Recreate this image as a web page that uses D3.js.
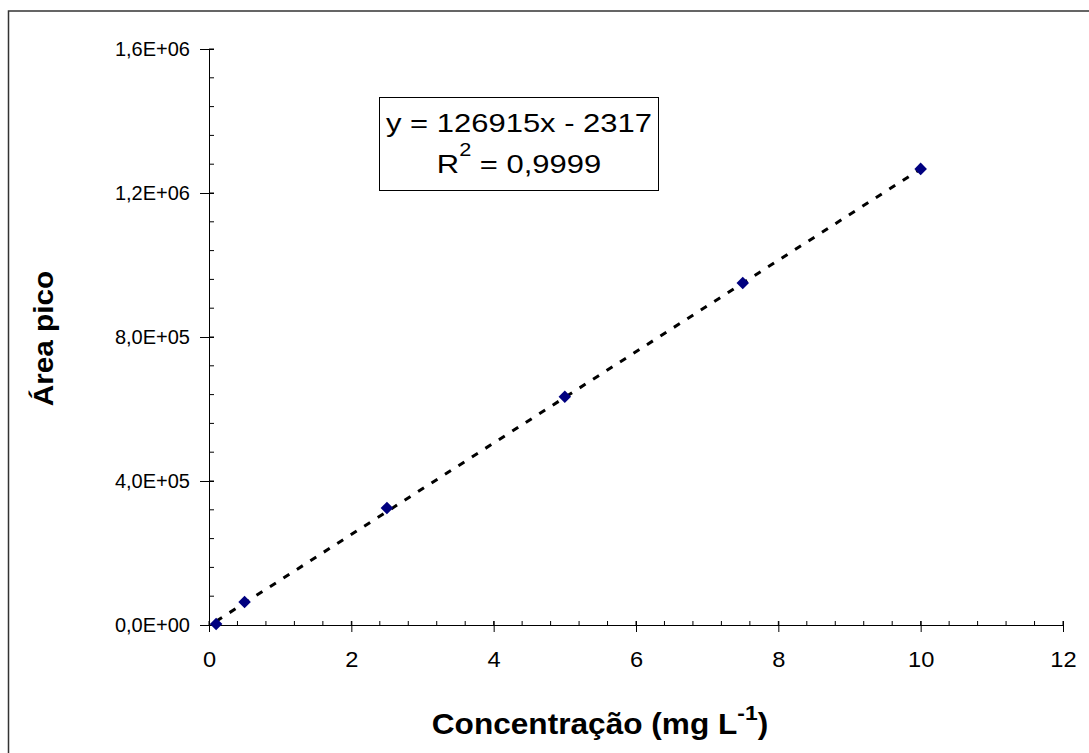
<!DOCTYPE html>
<html><head><meta charset="utf-8">
<script src="https://cdn.jsdelivr.net/npm/d3@7"></script>
<style>body{margin:0;background:#fff}svg{display:block}text{font-family:Arial,"Liberation Sans",sans-serif}</style>
</head><body>
<script>
const concentrations = [0.1, 0.5, 2.5, 5, 7.5, 10];
const peakAreas = [3000, 64000, 325000, 634000, 950000, 1267000];
const slope = 126915, intercept = -2317;
const xTicks = [0, 2, 4, 6, 8, 10, 12];
const yTicks = [0, 400000, 800000, 1200000, 1600000];
const yTickLabels = ["0,0E+00", "4,0E+05", "8,0E+05", "1,2E+06", "1,6E+06"];
const eqLine1 = "y = 126915x - 2317";
const eqLine2 = "0,9999";

const W = 1089, H = 753;
const svg = d3.select("body").append("svg").attr("width", W).attr("height", H);
svg.append("rect").attr("x", 8.5).attr("y", 11).attr("width", 1100).attr("height", 800)
  .attr("fill", "#fff").attr("stroke", "#333").attr("stroke-width", 1.5);

const x = d3.scaleLinear().domain([0, 12]).range([209, 1063]);
const y = d3.scaleLinear().domain([0, 1600000]).range([625, 49]);

// minor ticks
const xMinor = d3.range(0, 12.0001, 0.4);
svg.append("g").selectAll("line").data(xMinor).join("line")
  .attr("x1", d => x(d)).attr("x2", d => x(d)).attr("y1", y(0) - 4).attr("y2", y(0))
  .attr("stroke", "#000").attr("stroke-width", 1);
const yMinor = d3.range(0, 1600001, 80000);
svg.append("g").selectAll("line").data(yMinor).join("line")
  .attr("x1", x(0)).attr("x2", x(0) + 5).attr("y1", d => y(d)).attr("y2", d => y(d))
  .attr("stroke", "#000").attr("stroke-width", 1);

// axes
const xAxis = d3.axisBottom(x).tickValues(xTicks).tickFormat(d3.format("d")).tickSizeInner(7).tickSizeOuter(0).tickPadding(20);
const gx = svg.append("g").attr("transform", `translate(0,${y(0)})`).call(xAxis);
gx.selectAll(".tick text").attr("font-size", 21.5).attr("fill", "#000").attr("font-family", "Arial, 'Liberation Sans', sans-serif")
  .attr("transform", "scale(1.1,1)");
gx.selectAll(".tick text").each(function(){ const t=d3.select(this); });
gx.select(".domain").attr("stroke", "#000");
gx.selectAll(".tick line").attr("y1", -4).attr("stroke", "#000");

const yAxis = d3.axisLeft(y).tickValues(yTicks).tickFormat((d, i) => yTickLabels[i]).tickSizeInner(9).tickSizeOuter(0).tickPadding(10);
const gy = svg.append("g").attr("transform", `translate(${x(0)},0)`).call(yAxis);
gy.selectAll("text").attr("font-size", 20).attr("fill", "#000").attr("font-family", "Arial, 'Liberation Sans', sans-serif");
gy.select(".domain").attr("stroke", "#000");
gy.selectAll(".tick line").attr("x1", 5).attr("stroke", "#000");

// trend line
const x0 = d3.min(concentrations), x1 = d3.max(concentrations);
svg.append("line")
  .attr("x1", x(x0)).attr("y1", y(slope * x0 + intercept))
  .attr("x2", x(x1)).attr("y2", y(slope * x1 + intercept))
  .attr("stroke", "#000").attr("stroke-width", 3).attr("stroke-dasharray", "7,9");

// points
svg.append("g").selectAll("path").data(concentrations).join("path")
  .attr("d", d3.symbol(d3.symbolDiamond2, 100))
  .attr("transform", (d, i) => `translate(${x(d)},${y(peakAreas[i])})`)
  .attr("fill", "#000080");

// equation box
svg.append("rect").attr("x", 379.5).attr("y", 97.5).attr("width", 279).attr("height", 93)
  .attr("fill", "#fff").attr("stroke", "#000").attr("stroke-width", 1);
svg.append("text").attr("transform", "translate(519,132) scale(1.21,1)").attr("text-anchor", "middle")
  .attr("font-size", 25.6).text(eqLine1);
const t2 = svg.append("text").attr("transform", "translate(519,173) scale(1.21,1)").attr("text-anchor", "middle").attr("font-size", 25.6);
t2.append("tspan").text("R");
t2.append("tspan").attr("font-size", 18).attr("dy", -17).text("2");
t2.append("tspan").attr("dy", 17).text(" = " + eqLine2);

// axis titles
const xt = svg.append("text").attr("transform", "translate(600,734) scale(1.09,1)").attr("text-anchor", "middle")
  .attr("font-size", 29).attr("font-weight", "bold");
xt.append("tspan").text("Concentração (mg L");
xt.append("tspan").attr("font-size", 21).attr("dy", -14).text("-1");
xt.append("tspan").attr("dy", 14).text(")");

svg.append("text").attr("transform", "translate(53,338.5) rotate(-90) scale(1.08,1)").attr("text-anchor", "middle")
  .attr("font-size", 27.5).attr("font-weight", "bold").text("Área pico");
</script>
</body></html>
